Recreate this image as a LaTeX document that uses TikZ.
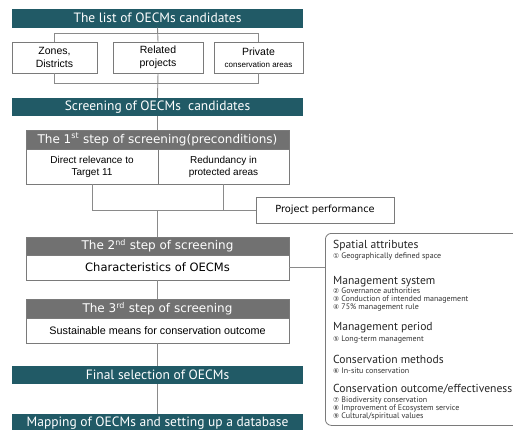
\documentclass[tikz,border=0pt]{standalone}
\usepackage{fontspec}
\setmainfont{Liberation Sans}
\newfontfamily\ptf{PT Sans}
\newfontfamily\dvf{DejaVu Sans}
\definecolor{tealbar}{HTML}{215A66}
\definecolor{hdgray}{HTML}{717171}
\definecolor{lngray}{HTML}{8A8A8A}
\definecolor{bxgray}{HTML}{7A7A7A}
\newcommand{\cn}[1]{{\dvf\fontsize{6.8}{7}\selectfont #1}}
\begin{document}
\begin{tikzpicture}[x=1pt,y=-1pt,
  tbar/.style={fill=tealbar,text=white,minimum width=291pt,minimum height=18pt,inner sep=0pt,font=\ptf\fontsize{13.5}{15}\selectfont},
  boxw/.style={draw=bxgray,line width=0.8pt,fill=white,inner sep=0pt,align=center,font=\fontsize{10.5}{12.5}\selectfont},
  ghead/.style={fill=hdgray,draw=bxgray,line width=0.8pt,text=white,minimum width=263pt,inner sep=0pt,font=\dvf\fontsize{12}{14}\selectfont},
  cell/.style={draw=bxgray,line width=0.8pt,fill=white,inner sep=0pt,align=center,font=\fontsize{10}{12}\selectfont},
  conn/.style={draw=lngray,line width=0.9pt},
  phead/.style={anchor=west,inner sep=0pt,font=\ptf\fontsize{11.6}{12}\selectfont,text=black!85},
  pitem/.style={anchor=west,inner sep=0pt,align=left,font=\ptf\fontsize{8}{7.9}\selectfont,text=black!80}
]
\useasboundingbox (0,0) rectangle (513,429);
% top part
\node[tbar,minimum height=19pt] (t1) at (157.5,18) {The list of OECMs candidates};
\node[boxw,minimum width=85pt,minimum height=31pt] (zones) at (54.5,57.5) {Zones,\\Districts};
\node[boxw,minimum width=90pt,minimum height=31pt] (rel) at (158,57.5) {Related\\projects};
\node[boxw,minimum width=89pt,minimum height=31pt] (priv) at (258.5,57.5) {Private\\{\fontsize{8}{9.5}\selectfont conservation areas}};
\node[tbar] (scr) at (157.5,107) {Screening of OECMs\ \ candidates};
% step 1
\node[ghead,minimum height=19pt] (s1h) at (157.5,139.5) {The 1\textsuperscript{st} step of screening(preconditions)};
\node[cell,minimum width=132pt,minimum height=35pt] (s1a) at (92,166.5) {Direct relevance to\\Target 11};
\node[cell,minimum width=131pt,minimum height=35pt] (s1b) at (223.5,166.5) {Redundancy in\\protected areas};
\node[cell,minimum width=138pt,minimum height=26pt,font=\dvf\fontsize{9.8}{11}\selectfont] (proj) at (325,210) {Project performance};
% step 2
\node[ghead,minimum height=18pt] (s2h) at (157.5,246) {The 2\textsuperscript{nd} step of screening};
\node[cell,minimum width=263pt,minimum height=25pt,font=\dvf\fontsize{11.5}{13}\selectfont] (s2b) at (157.5,267.5) {Characteristics of OECMs};
% step 3
\node[ghead,minimum height=19pt] (s3h) at (157.5,308.5) {The 3\textsuperscript{rd} step of screening};
\node[cell,minimum width=263pt,minimum height=25pt,font=\fontsize{10.8}{12}\selectfont] (s3b) at (157.5,330.5) {Sustainable means for conservation outcome};
% final
\node[tbar] (fin) at (157.5,375) {Final selection of OECMs};
\node[tbar] (map) at (157.5,423) {Mapping of OECMs and setting up a database};
% panel
\node[draw=bxgray,line width=0.8pt,rounded corners=6pt,minimum width=195pt,minimum height=192pt,anchor=north west,inner sep=0pt] (panel) at (325,233) {};
% connectors
\draw[conn] (t1.south) -- (rel.north);
\draw[conn] (zones.north) -- ++(0,-8) -| (priv.north);
\draw[conn] (zones.south) -- ++(0,10) -| (priv.south);
\draw[conn] (rel.south) -- (scr.north);
\draw[conn] (scr.south) -- (s1h.north);
\draw[conn] (s1a.south) |- (proj.west);
\draw[conn] (s1b.south) -- (s1b.south |- proj.west);
\draw[conn] (s2h.north |- proj.west) -- (s2h.north);
\draw[conn] (s2b.east) -- (s2b.east -| panel.west);
\draw[conn] (s2b.south) -- (s3h.north);
\draw[conn] (s3b.south) -- (fin.north);
\draw[conn] (fin.south) -- (map.north);
% panel text
\node[phead] (h1) at (333,246) {Spatial attributes};
\node[pitem] (i1) at (333,256.5) {\cn{①} Geographically defined space};
\node[phead] (h2) at (333,282) {Management system};
\node[pitem,anchor=north west] (i2) at (333,288) {\cn{②} Governance authorities\\\cn{③} Conduction of intended management\\\cn{④} 75\% management rule};
\node[phead] (h3) at (333,328) {Management period};
\node[pitem] (i3) at (333,339.5) {\cn{⑤} Long-term management};
\node[phead] (h4) at (333,359) {Conservation methods};
\node[pitem] (i4) at (333,370.5) {\cn{⑥} In-situ conservation};
\node[phead] (h5) at (333,389) {Conservation outcome/effectiveness};
\node[pitem,anchor=north west] (i5) at (333,397) {\cn{⑦} Biodiversity conservation\\\cn{⑧} Improvement of Ecosystem service\\\cn{⑨} Cultural/spiritual values};
\end{tikzpicture}
\end{document}
